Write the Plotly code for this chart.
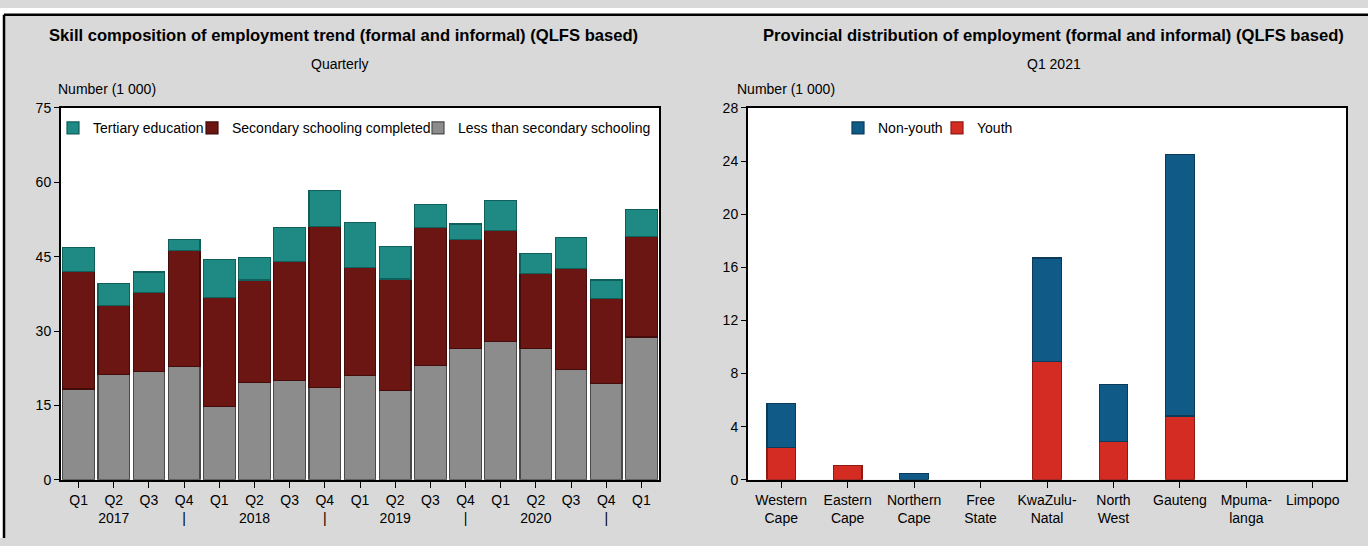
import plotly.graph_objects as go

W, H = 1368, 546

# ---- Left chart data (Number, 1 000) ----
quarters = ["Q1", "Q2<br>2017", "Q3", "Q4<br>|", "Q1", "Q2<br>2018", "Q3", "Q4<br>|",
            "Q1", "Q2<br>2019", "Q3", "Q4<br>|", "Q1", "Q2<br>2020", "Q3", "Q4<br>|", "Q1"]
less_than_secondary = [18.3, 21.3, 21.9, 22.8, 14.7, 19.6, 20.0, 18.6, 21.1, 18.0, 23.0, 26.4, 27.9, 26.4, 22.2, 19.4, 28.8]
secondary_completed = [23.7, 13.8, 15.8, 23.5, 22.1, 20.7, 24.1, 32.5, 21.8, 22.5, 27.9, 22.1, 22.4, 15.2, 20.4, 17.2, 20.2]
tertiary = [4.9, 4.5, 4.2, 2.1, 7.6, 4.6, 6.8, 7.3, 9.0, 6.5, 4.6, 3.1, 6.0, 4.0, 6.2, 3.7, 5.5]
left_yticks = [0, 15, 30, 45, 60, 75]

# ---- Right chart data (Number, 1 000) ----
provinces = ["Western<br>Cape", "Eastern<br>Cape", "Northern<br>Cape", "Free<br>State", "KwaZulu-<br>Natal",
             "North<br>West", "Gauteng", "Mpuma-<br>langa", "Limpopo"]
youth = [2.4, 1.1, 0.0, 0.0, 8.9, 2.9, 4.8, 0.0, 0.0]
non_youth = [3.35, 0.0, 0.45, 0.0, 7.8, 4.3, 19.7, 0.0, 0.0]
right_yticks = [0, 4, 8, 12, 16, 20, 24, 28]

FONT = "Liberation Sans, Arial, sans-serif"
BG = "#D9D9D9"


def px_x(p):
    return p / W


def px_y(p):
    return 1 - p / H


def edge_widths(vals, w=1.2):
    return [0 if v == 0 else w for v in vals]


fig = go.Figure()

xl = list(range(len(quarters)))
fig.add_trace(go.Bar(x=xl, y=less_than_secondary, name="Less than secondary schooling", width=0.9,
                     marker=dict(color="#8C8C8C", line=dict(color="#4A4A4A", width=edge_widths(less_than_secondary))),
                     xaxis="x", yaxis="y", legend="legend3"))
fig.add_trace(go.Bar(x=xl, y=secondary_completed, name="Secondary schooling completed", width=0.9,
                     marker=dict(color="#6B1613", line=dict(color="#420C0A", width=edge_widths(secondary_completed))),
                     xaxis="x", yaxis="y", legend="legend2"))
fig.add_trace(go.Bar(x=xl, y=tertiary, name="Tertiary education", width=0.9,
                     marker=dict(color="#1F8A83", line=dict(color="#0F5F5A", width=edge_widths(tertiary))),
                     xaxis="x", yaxis="y", legend="legend"))

xr = list(range(len(provinces)))
fig.add_trace(go.Bar(x=xr, y=youth, name="Youth", width=0.43,
                     marker=dict(color="#D42B23", line=dict(color="#8E1A15", width=edge_widths(youth))),
                     xaxis="x2", yaxis="y2", legend="legend5"))
fig.add_trace(go.Bar(x=xr, y=non_youth, name="Non-youth", width=0.43,
                     marker=dict(color="#0F5A86", line=dict(color="#0A3C5A", width=edge_widths(non_youth))),
                     xaxis="x2", yaxis="y2", legend="legend4"))

axis_common = dict(showline=True, linecolor="black", linewidth=2, mirror=True,
                   showgrid=False, zeroline=False, ticks="outside", tickcolor="black",
                   tickfont=dict(family=FONT, size=14, color="black"))

ydom = [px_y(486), px_y(103)]

fig.update_layout(
    width=W, height=H,
    margin=dict(l=0, r=0, t=0, b=0),
    paper_bgcolor=BG,
    plot_bgcolor="white",
    barmode="stack",
    showlegend=True,
    font=dict(family=FONT, size=14, color="black"),
    xaxis=dict(domain=[px_x(61), px_x(659)], range=[-0.5, len(quarters) - 0.5], anchor="y",
               tickmode="array", tickvals=xl, ticktext=quarters,
               tickson="boundaries", ticklen=6, **axis_common),
    yaxis=dict(domain=ydom, range=[0, 75], tickvals=left_yticks, ticklen=5, anchor="x", **axis_common),
    xaxis2=dict(domain=[px_x(748), px_x(1346)], range=[-0.5, len(provinces) - 0.5], anchor="y2",
                tickmode="array", tickvals=xr, ticktext=provinces,
                tickson="boundaries", ticklen=6, **axis_common),
    yaxis2=dict(domain=ydom, range=[0, 28], tickvals=right_yticks, ticklen=5, anchor="x2", **axis_common),
)

# one legend per series so each entry sits where the reference puts it
leg_common = dict(orientation="h", yanchor="middle", xanchor="left", bgcolor="rgba(0,0,0,0)",
                  font=dict(family=FONT, size=14, color="black"), itemwidth=30, visible=True)
legend_text_x = {"legend": 93, "legend2": 232, "legend3": 458, "legend4": 878, "legend5": 977}
for key, tx in legend_text_x.items():
    fig.update_layout({key: dict(x=px_x(tx - 40), y=px_y(124), **leg_common)})

# white page strips and black frame
fig.add_shape(type="rect", xref="paper", yref="paper", x0=0, x1=px_x(4), y0=0, y1=1,
              fillcolor="white", line=dict(width=0), layer="below")
fig.add_shape(type="rect", xref="paper", yref="paper", x0=0, x1=1, y0=px_y(7), y1=1,
              fillcolor="white", line=dict(width=0), layer="below")
fig.add_shape(type="line", xref="paper", yref="paper", x0=px_x(4), x1=1, y0=px_y(7), y1=px_y(7),
              line=dict(color="black", width=2.5))
fig.add_shape(type="line", xref="paper", yref="paper", x0=px_x(4), x1=px_x(4), y0=0, y1=px_y(7),
              line=dict(color="black", width=2.5))


def text(x, y, s, size=14, bold=False, xanchor="center"):
    fig.add_annotation(x=px_x(x), y=px_y(y), xref="paper", yref="paper", showarrow=False,
                       text=f"<b>{s}</b>" if bold else s, xanchor=xanchor, yanchor="middle",
                       font=dict(family=FONT, size=size, color="black"))


text(343, 28, "Skill composition of employment trend (formal and informal) (QLFS based)", size=16.6, bold=True)
text(340, 58, "Quarterly")
text(56, 83, "Number (1 000)", xanchor="left")
text(1053, 28, "Provincial distribution of employment (formal and informal) (QLFS based)", size=16.6, bold=True)
text(1054, 58, "Q1 2021")
text(735, 83, "Number (1 000)", xanchor="left")

fig.write_html("out.html", config={"displayModeBar": False},
               post_script="document.body.style.margin='0';document.body.style.overflow='hidden';")
